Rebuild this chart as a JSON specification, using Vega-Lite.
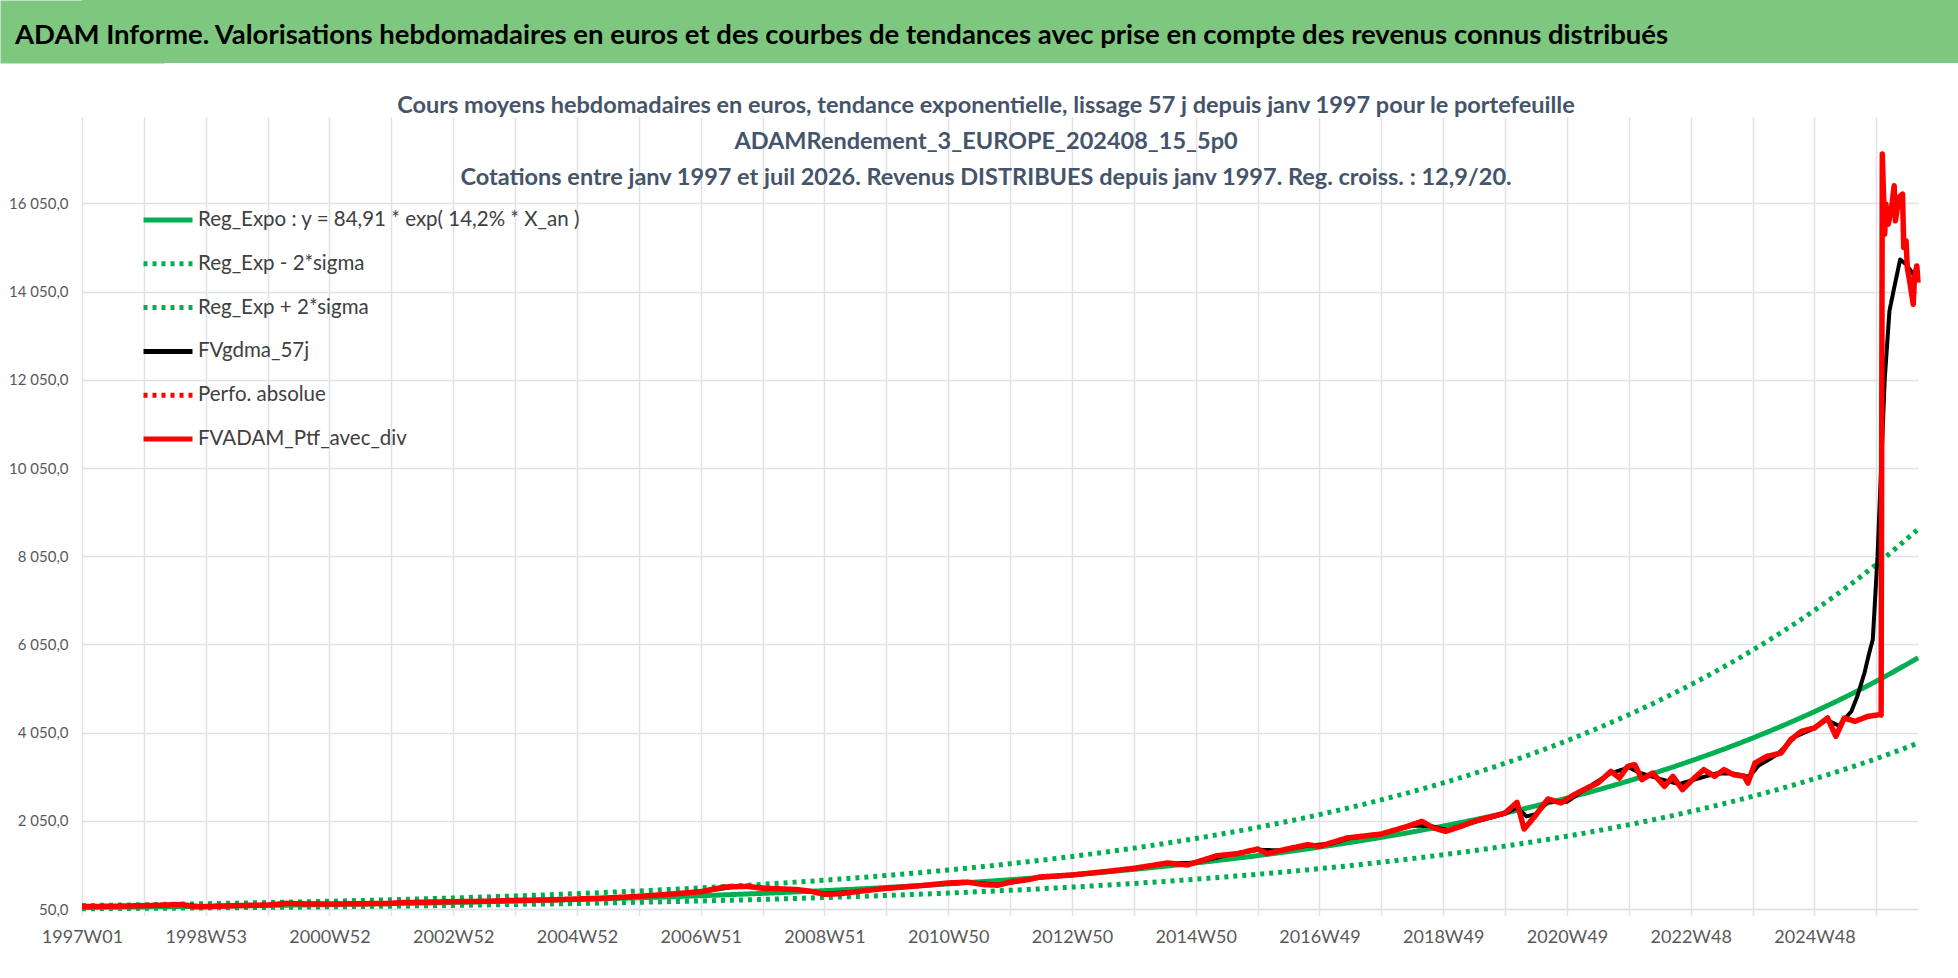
{
  "$schema": "https://vega.github.io/schema/vega-lite/v6.json",
  "background": "white",
  "padding": 0,
  "columns": 1,
  "align": "none",
  "spacing": 25,
  "config": {
    "view": {"stroke": null},
    "font": "Lato"
  },
  "resolve": {"legend": {"color": "independent", "strokeDash": "independent"}},
  "concat": [
    {
      "width": 1876,
      "height": 63,
      "view": {"fill": "#7ec77e", "stroke": null},
      "title": {
        "text": "ADAM Informe. Valorisations hebdomadaires en euros et des courbes de tendances avec prise en compte des revenus connus distribués",
        "anchor": "start",
        "frame": "group",
        "offset": -49,
        "dx": -67,
        "fontSize": 27.5,
        "fontWeight": "bold",
        "color": "#000000"
      },
      "data": {"values": [{}]},
      "mark": "text",
      "encoding": {
        "text": {"value": ""},
        "y": {
          "datum": 0,
          "type": "quantitative",
          "scale": {"domain": [0, 1]},
          "axis": {
            "title": null,
            "labels": false,
            "ticks": false,
            "grid": false,
            "domain": true,
            "domainColor": "#7ec77e",
            "domainWidth": 164,
            "domainCap": "butt"
          }
        }
      }
    },
    {
      "width": 1836,
      "height": 792,
      "title": {
        "text": [
          "Cours moyens hebdomadaires  en euros, tendance exponentielle, lissage 57 j depuis janv 1997 pour le portefeuille",
          "ADAMRendement_3_EUROPE_202408_15_5p0",
          "Cotations  entre janv 1997 et juil 2026. Revenus DISTRIBUES depuis janv 1997. Reg. croiss. : 12,9/20."
        ],
        "anchor": "middle",
        "frame": "group",
        "offset": -72,
        "lineHeight": 36,
        "dx": -14,
        "fontSize": 23.5,
        "fontWeight": "bold",
        "color": "#44546a"
      },
      "data": {
        "values": [
          {"s": "Reg_Expo : y = 84,91 * exp( 14,2% * X_an )", "i": 0, "v": 84.9},
          {"s": "Reg_Expo : y = 84,91 * exp( 14,2% * X_an )", "i": 52, "v": 97.9},
          {"s": "Reg_Expo : y = 84,91 * exp( 14,2% * X_an )", "i": 104, "v": 112.8},
          {"s": "Reg_Expo : y = 84,91 * exp( 14,2% * X_an )", "i": 156, "v": 130.0},
          {"s": "Reg_Expo : y = 84,91 * exp( 14,2% * X_an )", "i": 208, "v": 149.8},
          {"s": "Reg_Expo : y = 84,91 * exp( 14,2% * X_an )", "i": 260, "v": 172.7},
          {"s": "Reg_Expo : y = 84,91 * exp( 14,2% * X_an )", "i": 312, "v": 199.1},
          {"s": "Reg_Expo : y = 84,91 * exp( 14,2% * X_an )", "i": 364, "v": 229.4},
          {"s": "Reg_Expo : y = 84,91 * exp( 14,2% * X_an )", "i": 416, "v": 264.4},
          {"s": "Reg_Expo : y = 84,91 * exp( 14,2% * X_an )", "i": 468, "v": 304.8},
          {"s": "Reg_Expo : y = 84,91 * exp( 14,2% * X_an )", "i": 520, "v": 351.3},
          {"s": "Reg_Expo : y = 84,91 * exp( 14,2% * X_an )", "i": 572, "v": 404.9},
          {"s": "Reg_Expo : y = 84,91 * exp( 14,2% * X_an )", "i": 624, "v": 466.7},
          {"s": "Reg_Expo : y = 84,91 * exp( 14,2% * X_an )", "i": 676, "v": 537.9},
          {"s": "Reg_Expo : y = 84,91 * exp( 14,2% * X_an )", "i": 728, "v": 619.9},
          {"s": "Reg_Expo : y = 84,91 * exp( 14,2% * X_an )", "i": 780, "v": 714.5},
          {"s": "Reg_Expo : y = 84,91 * exp( 14,2% * X_an )", "i": 832, "v": 823.5},
          {"s": "Reg_Expo : y = 84,91 * exp( 14,2% * X_an )", "i": 884, "v": 949.2},
          {"s": "Reg_Expo : y = 84,91 * exp( 14,2% * X_an )", "i": 936, "v": 1094.0},
          {"s": "Reg_Expo : y = 84,91 * exp( 14,2% * X_an )", "i": 988, "v": 1260.9},
          {"s": "Reg_Expo : y = 84,91 * exp( 14,2% * X_an )", "i": 1040, "v": 1453.3},
          {"s": "Reg_Expo : y = 84,91 * exp( 14,2% * X_an )", "i": 1092, "v": 1675.0},
          {"s": "Reg_Expo : y = 84,91 * exp( 14,2% * X_an )", "i": 1144, "v": 1930.6},
          {"s": "Reg_Expo : y = 84,91 * exp( 14,2% * X_an )", "i": 1196, "v": 2225.2},
          {"s": "Reg_Expo : y = 84,91 * exp( 14,2% * X_an )", "i": 1248, "v": 2564.7},
          {"s": "Reg_Expo : y = 84,91 * exp( 14,2% * X_an )", "i": 1300, "v": 2956.0},
          {"s": "Reg_Expo : y = 84,91 * exp( 14,2% * X_an )", "i": 1352, "v": 3407.1},
          {"s": "Reg_Expo : y = 84,91 * exp( 14,2% * X_an )", "i": 1404, "v": 3926.9},
          {"s": "Reg_Expo : y = 84,91 * exp( 14,2% * X_an )", "i": 1456, "v": 4526.1},
          {"s": "Reg_Expo : y = 84,91 * exp( 14,2% * X_an )", "i": 1508, "v": 5216.7},
          {"s": "Reg_Expo : y = 84,91 * exp( 14,2% * X_an )", "i": 1543, "v": 5745.5},

          {"s": "Reg_Exp - 2*sigma", "i": 0, "v": 56.3},
          {"s": "Reg_Exp - 2*sigma", "i": 52, "v": 64.9},
          {"s": "Reg_Exp - 2*sigma", "i": 104, "v": 74.8},
          {"s": "Reg_Exp - 2*sigma", "i": 156, "v": 86.2},
          {"s": "Reg_Exp - 2*sigma", "i": 208, "v": 99.4},
          {"s": "Reg_Exp - 2*sigma", "i": 260, "v": 114.6},
          {"s": "Reg_Exp - 2*sigma", "i": 312, "v": 132.0},
          {"s": "Reg_Exp - 2*sigma", "i": 364, "v": 152.2},
          {"s": "Reg_Exp - 2*sigma", "i": 416, "v": 175.4},
          {"s": "Reg_Exp - 2*sigma", "i": 468, "v": 202.2},
          {"s": "Reg_Exp - 2*sigma", "i": 520, "v": 233.0},
          {"s": "Reg_Exp - 2*sigma", "i": 572, "v": 268.6},
          {"s": "Reg_Exp - 2*sigma", "i": 624, "v": 309.6},
          {"s": "Reg_Exp - 2*sigma", "i": 676, "v": 356.8},
          {"s": "Reg_Exp - 2*sigma", "i": 728, "v": 411.2},
          {"s": "Reg_Exp - 2*sigma", "i": 780, "v": 474.0},
          {"s": "Reg_Exp - 2*sigma", "i": 832, "v": 546.3},
          {"s": "Reg_Exp - 2*sigma", "i": 884, "v": 629.6},
          {"s": "Reg_Exp - 2*sigma", "i": 936, "v": 725.7},
          {"s": "Reg_Exp - 2*sigma", "i": 988, "v": 836.4},
          {"s": "Reg_Exp - 2*sigma", "i": 1040, "v": 964.1},
          {"s": "Reg_Exp - 2*sigma", "i": 1092, "v": 1111.1},
          {"s": "Reg_Exp - 2*sigma", "i": 1144, "v": 1280.7},
          {"s": "Reg_Exp - 2*sigma", "i": 1196, "v": 1476.1},
          {"s": "Reg_Exp - 2*sigma", "i": 1248, "v": 1701.3},
          {"s": "Reg_Exp - 2*sigma", "i": 1300, "v": 1960.9},
          {"s": "Reg_Exp - 2*sigma", "i": 1352, "v": 2260.1},
          {"s": "Reg_Exp - 2*sigma", "i": 1404, "v": 2604.9},
          {"s": "Reg_Exp - 2*sigma", "i": 1456, "v": 3002.4},
          {"s": "Reg_Exp - 2*sigma", "i": 1508, "v": 3460.5},
          {"s": "Reg_Exp - 2*sigma", "i": 1543, "v": 3811.3},

          {"s": "Reg_Exp + 2*sigma", "i": 0, "v": 128.0},
          {"s": "Reg_Exp + 2*sigma", "i": 52, "v": 147.5},
          {"s": "Reg_Exp + 2*sigma", "i": 104, "v": 170.0},
          {"s": "Reg_Exp + 2*sigma", "i": 156, "v": 196.0},
          {"s": "Reg_Exp + 2*sigma", "i": 208, "v": 225.9},
          {"s": "Reg_Exp + 2*sigma", "i": 260, "v": 260.4},
          {"s": "Reg_Exp + 2*sigma", "i": 312, "v": 300.1},
          {"s": "Reg_Exp + 2*sigma", "i": 364, "v": 345.9},
          {"s": "Reg_Exp + 2*sigma", "i": 416, "v": 398.6},
          {"s": "Reg_Exp + 2*sigma", "i": 468, "v": 459.5},
          {"s": "Reg_Exp + 2*sigma", "i": 520, "v": 529.6},
          {"s": "Reg_Exp + 2*sigma", "i": 572, "v": 610.4},
          {"s": "Reg_Exp + 2*sigma", "i": 624, "v": 703.5},
          {"s": "Reg_Exp + 2*sigma", "i": 676, "v": 810.8},
          {"s": "Reg_Exp + 2*sigma", "i": 728, "v": 934.5},
          {"s": "Reg_Exp + 2*sigma", "i": 780, "v": 1077.1},
          {"s": "Reg_Exp + 2*sigma", "i": 832, "v": 1241.5},
          {"s": "Reg_Exp + 2*sigma", "i": 884, "v": 1430.9},
          {"s": "Reg_Exp + 2*sigma", "i": 936, "v": 1649.2},
          {"s": "Reg_Exp + 2*sigma", "i": 988, "v": 1900.8},
          {"s": "Reg_Exp + 2*sigma", "i": 1040, "v": 2190.9},
          {"s": "Reg_Exp + 2*sigma", "i": 1092, "v": 2525.1},
          {"s": "Reg_Exp + 2*sigma", "i": 1144, "v": 2910.4},
          {"s": "Reg_Exp + 2*sigma", "i": 1196, "v": 3354.5},
          {"s": "Reg_Exp + 2*sigma", "i": 1248, "v": 3866.3},
          {"s": "Reg_Exp + 2*sigma", "i": 1300, "v": 4456.2},
          {"s": "Reg_Exp + 2*sigma", "i": 1352, "v": 5136.2},
          {"s": "Reg_Exp + 2*sigma", "i": 1404, "v": 5919.8},
          {"s": "Reg_Exp + 2*sigma", "i": 1456, "v": 6823.1},
          {"s": "Reg_Exp + 2*sigma", "i": 1508, "v": 7864.2},
          {"s": "Reg_Exp + 2*sigma", "i": 1543, "v": 8661.3},

          {"s": "FVgdma_57j", "i": 0, "v": 100},
          {"s": "FVgdma_57j", "i": 52, "v": 125},
          {"s": "FVgdma_57j", "i": 83, "v": 145},
          {"s": "FVgdma_57j", "i": 104, "v": 110},
          {"s": "FVgdma_57j", "i": 156, "v": 140},
          {"s": "FVgdma_57j", "i": 177, "v": 170},
          {"s": "FVgdma_57j", "i": 208, "v": 165},
          {"s": "FVgdma_57j", "i": 260, "v": 180},
          {"s": "FVgdma_57j", "i": 312, "v": 215},
          {"s": "FVgdma_57j", "i": 364, "v": 245},
          {"s": "FVgdma_57j", "i": 416, "v": 275},
          {"s": "FVgdma_57j", "i": 468, "v": 335},
          {"s": "FVgdma_57j", "i": 494, "v": 385},
          {"s": "FVgdma_57j", "i": 520, "v": 440},
          {"s": "FVgdma_57j", "i": 546, "v": 545},
          {"s": "FVgdma_57j", "i": 562, "v": 560},
          {"s": "FVgdma_57j", "i": 582, "v": 510},
          {"s": "FVgdma_57j", "i": 603, "v": 480},
          {"s": "FVgdma_57j", "i": 624, "v": 400},
          {"s": "FVgdma_57j", "i": 650, "v": 440},
          {"s": "FVgdma_57j", "i": 676, "v": 515},
          {"s": "FVgdma_57j", "i": 705, "v": 575},
          {"s": "FVgdma_57j", "i": 728, "v": 635},
          {"s": "FVgdma_57j", "i": 754, "v": 640},
          {"s": "FVgdma_57j", "i": 770, "v": 600},
          {"s": "FVgdma_57j", "i": 790, "v": 690},
          {"s": "FVgdma_57j", "i": 806, "v": 770},
          {"s": "FVgdma_57j", "i": 832, "v": 815},
          {"s": "FVgdma_57j", "i": 858, "v": 895},
          {"s": "FVgdma_57j", "i": 884, "v": 965},
          {"s": "FVgdma_57j", "i": 910, "v": 1080},
          {"s": "FVgdma_57j", "i": 936, "v": 1100},
          {"s": "FVgdma_57j", "i": 962, "v": 1270},
          {"s": "FVgdma_57j", "i": 988, "v": 1390},
          {"s": "FVgdma_57j", "i": 1009, "v": 1380},
          {"s": "FVgdma_57j", "i": 1030, "v": 1490},
          {"s": "FVgdma_57j", "i": 1050, "v": 1530},
          {"s": "FVgdma_57j", "i": 1066, "v": 1660},
          {"s": "FVgdma_57j", "i": 1092, "v": 1750},
          {"s": "FVgdma_57j", "i": 1118, "v": 1940},
          {"s": "FVgdma_57j", "i": 1134, "v": 1930},
          {"s": "FVgdma_57j", "i": 1149, "v": 1830},
          {"s": "FVgdma_57j", "i": 1170, "v": 2020},
          {"s": "FVgdma_57j", "i": 1196, "v": 2210},
          {"s": "FVgdma_57j", "i": 1206, "v": 2350},
          {"s": "FVgdma_57j", "i": 1214, "v": 2150},
          {"s": "FVgdma_57j", "i": 1222, "v": 2200},
          {"s": "FVgdma_57j", "i": 1232, "v": 2480},
          {"s": "FVgdma_57j", "i": 1248, "v": 2480},
          {"s": "FVgdma_57j", "i": 1264, "v": 2780},
          {"s": "FVgdma_57j", "i": 1284, "v": 3120},
          {"s": "FVgdma_57j", "i": 1300, "v": 3260},
          {"s": "FVgdma_57j", "i": 1310, "v": 3130},
          {"s": "FVgdma_57j", "i": 1326, "v": 3000},
          {"s": "FVgdma_57j", "i": 1342, "v": 2880},
          {"s": "FVgdma_57j", "i": 1357, "v": 3000},
          {"s": "FVgdma_57j", "i": 1373, "v": 3120},
          {"s": "FVgdma_57j", "i": 1388, "v": 3120},
          {"s": "FVgdma_57j", "i": 1401, "v": 3050},
          {"s": "FVgdma_57j", "i": 1409, "v": 3300},
          {"s": "FVgdma_57j", "i": 1425, "v": 3560},
          {"s": "FVgdma_57j", "i": 1440, "v": 3960},
          {"s": "FVgdma_57j", "i": 1456, "v": 4150},
          {"s": "FVgdma_57j", "i": 1466, "v": 4340},
          {"s": "FVgdma_57j", "i": 1477, "v": 4200},
          {"s": "FVgdma_57j", "i": 1482, "v": 4380},
          {"s": "FVgdma_57j", "i": 1487, "v": 4532},
          {"s": "FVgdma_57j", "i": 1492, "v": 4873},
          {"s": "FVgdma_57j", "i": 1498, "v": 5402},
          {"s": "FVgdma_57j", "i": 1502, "v": 5855},
          {"s": "FVgdma_57j", "i": 1505, "v": 6158},
          {"s": "FVgdma_57j", "i": 1509, "v": 8050},
          {"s": "FVgdma_57j", "i": 1512, "v": 10050},
          {"s": "FVgdma_57j", "i": 1515, "v": 12050},
          {"s": "FVgdma_57j", "i": 1519, "v": 13610},
          {"s": "FVgdma_57j", "i": 1523, "v": 14140},
          {"s": "FVgdma_57j", "i": 1528, "v": 14780},
          {"s": "FVgdma_57j", "i": 1533, "v": 14671},
          {"s": "FVgdma_57j", "i": 1539, "v": 14444},
          {"s": "FVgdma_57j", "i": 1540, "v": 14400},

          {"s": "FVADAM_Ptf_avec_div", "i": 0, "v": 103},
          {"s": "FVADAM_Ptf_avec_div", "i": 18, "v": 110},
          {"s": "FVADAM_Ptf_avec_div", "i": 37, "v": 118},
          {"s": "FVADAM_Ptf_avec_div", "i": 52, "v": 126},
          {"s": "FVADAM_Ptf_avec_div", "i": 68, "v": 140},
          {"s": "FVADAM_Ptf_avec_div", "i": 83, "v": 150},
          {"s": "FVADAM_Ptf_avec_div", "i": 88, "v": 135},
          {"s": "FVADAM_Ptf_avec_div", "i": 94, "v": 100},
          {"s": "FVADAM_Ptf_avec_div", "i": 104, "v": 103},
          {"s": "FVADAM_Ptf_avec_div", "i": 128, "v": 126},
          {"s": "FVADAM_Ptf_avec_div", "i": 156, "v": 141},
          {"s": "FVADAM_Ptf_avec_div", "i": 172, "v": 178},
          {"s": "FVADAM_Ptf_avec_div", "i": 187, "v": 165},
          {"s": "FVADAM_Ptf_avec_div", "i": 208, "v": 163},
          {"s": "FVADAM_Ptf_avec_div", "i": 234, "v": 170},
          {"s": "FVADAM_Ptf_avec_div", "i": 260, "v": 178},
          {"s": "FVADAM_Ptf_avec_div", "i": 268, "v": 195},
          {"s": "FVADAM_Ptf_avec_div", "i": 312, "v": 216},
          {"s": "FVADAM_Ptf_avec_div", "i": 338, "v": 225},
          {"s": "FVADAM_Ptf_avec_div", "i": 364, "v": 246},
          {"s": "FVADAM_Ptf_avec_div", "i": 390, "v": 255},
          {"s": "FVADAM_Ptf_avec_div", "i": 416, "v": 277},
          {"s": "FVADAM_Ptf_avec_div", "i": 442, "v": 300},
          {"s": "FVADAM_Ptf_avec_div", "i": 468, "v": 337},
          {"s": "FVADAM_Ptf_avec_div", "i": 494, "v": 385},
          {"s": "FVADAM_Ptf_avec_div", "i": 520, "v": 443},
          {"s": "FVADAM_Ptf_avec_div", "i": 540, "v": 549},
          {"s": "FVADAM_Ptf_avec_div", "i": 559, "v": 564},
          {"s": "FVADAM_Ptf_avec_div", "i": 572, "v": 519},
          {"s": "FVADAM_Ptf_avec_div", "i": 588, "v": 505},
          {"s": "FVADAM_Ptf_avec_div", "i": 602, "v": 488},
          {"s": "FVADAM_Ptf_avec_div", "i": 613, "v": 450},
          {"s": "FVADAM_Ptf_avec_div", "i": 624, "v": 383},
          {"s": "FVADAM_Ptf_avec_div", "i": 638, "v": 398},
          {"s": "FVADAM_Ptf_avec_div", "i": 660, "v": 473},
          {"s": "FVADAM_Ptf_avec_div", "i": 676, "v": 519},
          {"s": "FVADAM_Ptf_avec_div", "i": 705, "v": 579},
          {"s": "FVADAM_Ptf_avec_div", "i": 728, "v": 640},
          {"s": "FVADAM_Ptf_avec_div", "i": 744, "v": 660},
          {"s": "FVADAM_Ptf_avec_div", "i": 759, "v": 600},
          {"s": "FVADAM_Ptf_avec_div", "i": 770, "v": 590},
          {"s": "FVADAM_Ptf_avec_div", "i": 780, "v": 660},
          {"s": "FVADAM_Ptf_avec_div", "i": 796, "v": 720},
          {"s": "FVADAM_Ptf_avec_div", "i": 805, "v": 776},
          {"s": "FVADAM_Ptf_avec_div", "i": 832, "v": 821},
          {"s": "FVADAM_Ptf_avec_div", "i": 862, "v": 904},
          {"s": "FVADAM_Ptf_avec_div", "i": 884, "v": 972},
          {"s": "FVADAM_Ptf_avec_div", "i": 912, "v": 1093},
          {"s": "FVADAM_Ptf_avec_div", "i": 929, "v": 1048},
          {"s": "FVADAM_Ptf_avec_div", "i": 936, "v": 1108},
          {"s": "FVADAM_Ptf_avec_div", "i": 954, "v": 1259},
          {"s": "FVADAM_Ptf_avec_div", "i": 971, "v": 1305},
          {"s": "FVADAM_Ptf_avec_div", "i": 988, "v": 1411},
          {"s": "FVADAM_Ptf_avec_div", "i": 996, "v": 1305},
          {"s": "FVADAM_Ptf_avec_div", "i": 1013, "v": 1411},
          {"s": "FVADAM_Ptf_avec_div", "i": 1030, "v": 1509},
          {"s": "FVADAM_Ptf_avec_div", "i": 1040, "v": 1471},
          {"s": "FVADAM_Ptf_avec_div", "i": 1063, "v": 1660},
          {"s": "FVADAM_Ptf_avec_div", "i": 1092, "v": 1751},
          {"s": "FVADAM_Ptf_avec_div", "i": 1114, "v": 1925},
          {"s": "FVADAM_Ptf_avec_div", "i": 1126, "v": 2038},
          {"s": "FVADAM_Ptf_avec_div", "i": 1136, "v": 1887},
          {"s": "FVADAM_Ptf_avec_div", "i": 1146, "v": 1811},
          {"s": "FVADAM_Ptf_avec_div", "i": 1159, "v": 1925},
          {"s": "FVADAM_Ptf_avec_div", "i": 1170, "v": 2038},
          {"s": "FVADAM_Ptf_avec_div", "i": 1196, "v": 2227},
          {"s": "FVADAM_Ptf_avec_div", "i": 1206, "v": 2469},
          {"s": "FVADAM_Ptf_avec_div", "i": 1212, "v": 1864},
          {"s": "FVADAM_Ptf_avec_div", "i": 1221, "v": 2151},
          {"s": "FVADAM_Ptf_avec_div", "i": 1232, "v": 2545},
          {"s": "FVADAM_Ptf_avec_div", "i": 1243, "v": 2454},
          {"s": "FVADAM_Ptf_avec_div", "i": 1254, "v": 2643},
          {"s": "FVADAM_Ptf_avec_div", "i": 1265, "v": 2794},
          {"s": "FVADAM_Ptf_avec_div", "i": 1274, "v": 2907},
          {"s": "FVADAM_Ptf_avec_div", "i": 1285, "v": 3172},
          {"s": "FVADAM_Ptf_avec_div", "i": 1292, "v": 3021},
          {"s": "FVADAM_Ptf_avec_div", "i": 1299, "v": 3285},
          {"s": "FVADAM_Ptf_avec_div", "i": 1305, "v": 3323},
          {"s": "FVADAM_Ptf_avec_div", "i": 1311, "v": 2983},
          {"s": "FVADAM_Ptf_avec_div", "i": 1320, "v": 3134},
          {"s": "FVADAM_Ptf_avec_div", "i": 1330, "v": 2832},
          {"s": "FVADAM_Ptf_avec_div", "i": 1337, "v": 3059},
          {"s": "FVADAM_Ptf_avec_div", "i": 1345, "v": 2756},
          {"s": "FVADAM_Ptf_avec_div", "i": 1355, "v": 3021},
          {"s": "FVADAM_Ptf_avec_div", "i": 1363, "v": 3210},
          {"s": "FVADAM_Ptf_avec_div", "i": 1372, "v": 3059},
          {"s": "FVADAM_Ptf_avec_div", "i": 1380, "v": 3210},
          {"s": "FVADAM_Ptf_avec_div", "i": 1388, "v": 3096},
          {"s": "FVADAM_Ptf_avec_div", "i": 1397, "v": 3059},
          {"s": "FVADAM_Ptf_avec_div", "i": 1400, "v": 2907},
          {"s": "FVADAM_Ptf_avec_div", "i": 1406, "v": 3361},
          {"s": "FVADAM_Ptf_avec_div", "i": 1416, "v": 3512},
          {"s": "FVADAM_Ptf_avec_div", "i": 1428, "v": 3588},
          {"s": "FVADAM_Ptf_avec_div", "i": 1436, "v": 3890},
          {"s": "FVADAM_Ptf_avec_div", "i": 1445, "v": 4079},
          {"s": "FVADAM_Ptf_avec_div", "i": 1456, "v": 4155},
          {"s": "FVADAM_Ptf_avec_div", "i": 1467, "v": 4381},
          {"s": "FVADAM_Ptf_avec_div", "i": 1474, "v": 3966},
          {"s": "FVADAM_Ptf_avec_div", "i": 1481, "v": 4381},
          {"s": "FVADAM_Ptf_avec_div", "i": 1490, "v": 4306},
          {"s": "FVADAM_Ptf_avec_div", "i": 1501, "v": 4419},
          {"s": "FVADAM_Ptf_avec_div", "i": 1511, "v": 4457},
          {"s": "FVADAM_Ptf_avec_div", "i": 1512, "v": 4450},
          {"s": "FVADAM_Ptf_avec_div", "i": 1513, "v": 17171},
          {"s": "FVADAM_Ptf_avec_div", "i": 1515, "v": 15353},
          {"s": "FVADAM_Ptf_avec_div", "i": 1516, "v": 16035},
          {"s": "FVADAM_Ptf_avec_div", "i": 1518, "v": 15580},
          {"s": "FVADAM_Ptf_avec_div", "i": 1521, "v": 15997},
          {"s": "FVADAM_Ptf_avec_div", "i": 1523, "v": 16451},
          {"s": "FVADAM_Ptf_avec_div", "i": 1524, "v": 15656},
          {"s": "FVADAM_Ptf_avec_div", "i": 1527, "v": 16186},
          {"s": "FVADAM_Ptf_avec_div", "i": 1530, "v": 16262},
          {"s": "FVADAM_Ptf_avec_div", "i": 1531, "v": 15050},
          {"s": "FVADAM_Ptf_avec_div", "i": 1533, "v": 15201},
          {"s": "FVADAM_Ptf_avec_div", "i": 1534, "v": 14595},
          {"s": "FVADAM_Ptf_avec_div", "i": 1536, "v": 14292},
          {"s": "FVADAM_Ptf_avec_div", "i": 1539, "v": 13762},
          {"s": "FVADAM_Ptf_avec_div", "i": 1540, "v": 14368},
          {"s": "FVADAM_Ptf_avec_div", "i": 1542, "v": 14633},
          {"s": "FVADAM_Ptf_avec_div", "i": 1543, "v": 14254}
        ]
      },
      "encoding": {
        "x": {
          "field": "i",
          "type": "quantitative",
          "scale": {"domain": [0, 1543], "nice": false, "zero": false},
          "axis": {
            "title": null,
            "values": [0, 52, 104, 156, 208, 260, 312, 364, 416, 468, 520, 572, 624, 676, 728, 780, 832, 884, 936, 988, 1040, 1092, 1144, 1196, 1248, 1300, 1352, 1404, 1456, 1508],
            "labelExpr": "datum.value % 104 == 0 ? ['1997W01','1998W53','2000W52','2002W52','2004W52','2006W51','2008W51','2010W50','2012W50','2014W50','2016W49','2018W49','2020W49','2022W48','2024W48'][datum.value / 104] : ''",
            "grid": true,
            "gridColor": "#dde1e8",
            "gridWidth": 1.5,
            "domainColor": "#dde1e8",
            "domainWidth": 1.5,
            "tickColor": "#dde1e8",
            "tickWidth": 1.5,
            "tickSize": 6,
            "labelPadding": 13,
            "labelFontSize": 18,
            "labelColor": "#595959",
            "labelFlush": false,
            "labelOverlap": false,
            "labelBound": false
          }
        },
        "y": {
          "field": "v",
          "type": "quantitative",
          "scale": {"domain": [50, 18010], "nice": false, "zero": false},
          "axis": {
            "title": null,
            "values": [50, 2050, 4050, 6050, 8050, 10050, 12050, 14050, 16050],
            "labelExpr": "replace(replace(format(datum.value, ',.1f'), ',', ' '), '.', ',')",
            "grid": true,
            "gridColor": "#dde1e8",
            "gridWidth": 1.5,
            "domain": false,
            "ticks": false,
            "labelPadding": 14,
            "labelFontSize": 15,
            "labelColor": "#595959",
            "minExtent": 82
          }
        },
        "color": {
          "field": "s",
          "type": "nominal",
          "scale": {
            "domain": ["Reg_Expo : y = 84,91 * exp( 14,2% * X_an )", "Reg_Exp - 2*sigma", "Reg_Exp + 2*sigma", "FVgdma_57j", "Perfo. absolue", "FVADAM_Ptf_avec_div"],
            "range": ["#00b050", "#00b050", "#00b050", "#000000", "#ff0000", "#ff0000"]
          },
          "legend": {
            "title": null,
            "orient": "none",
            "legendX": 59,
            "legendY": 76,
            "symbolType": "stroke",
            "symbolSize": 2400,
            "symbolStrokeWidth": 5,
            "labelFontSize": 20.5,
            "labelColor": "#404040",
            "labelOffset": 3,
            "labelLimit": 700,
            "rowPadding": 5.8,
            "padding": 0
          }
        },
        "strokeDash": {
          "field": "s",
          "type": "nominal",
          "scale": {
            "domain": ["Reg_Expo : y = 84,91 * exp( 14,2% * X_an )", "Reg_Exp - 2*sigma", "Reg_Exp + 2*sigma", "FVgdma_57j", "Perfo. absolue", "FVADAM_Ptf_avec_div"],
            "range": [[1, 0], [4, 5], [4, 5], [1, 0], [4, 5], [1, 0]]
          },
          "legend": {
            "title": null,
            "orient": "none",
            "legendX": 59,
            "legendY": 76,
            "symbolType": "stroke",
            "symbolSize": 2400,
            "symbolStrokeWidth": 5,
            "labelFontSize": 20.5,
            "labelColor": "#404040",
            "labelOffset": 3,
            "labelLimit": 700,
            "rowPadding": 5.8,
            "padding": 0
          }
        }
      },
      "layer": [
        {
          "transform": [{"filter": "indexof(datum.s, 'Reg_Exp') == 0"}],
          "mark": {"type": "line", "strokeWidth": 5, "interpolate": "monotone"}
        },
        {
          "transform": [{"filter": "datum.s == 'FVgdma_57j'"}],
          "mark": {"type": "line", "strokeWidth": 4, "strokeJoin": "round"}
        },
        {
          "transform": [{"filter": "datum.s == 'FVADAM_Ptf_avec_div'"}],
          "mark": {"type": "line", "strokeWidth": 5.5, "strokeJoin": "round"}
        }
      ]
    }
  ]
}
